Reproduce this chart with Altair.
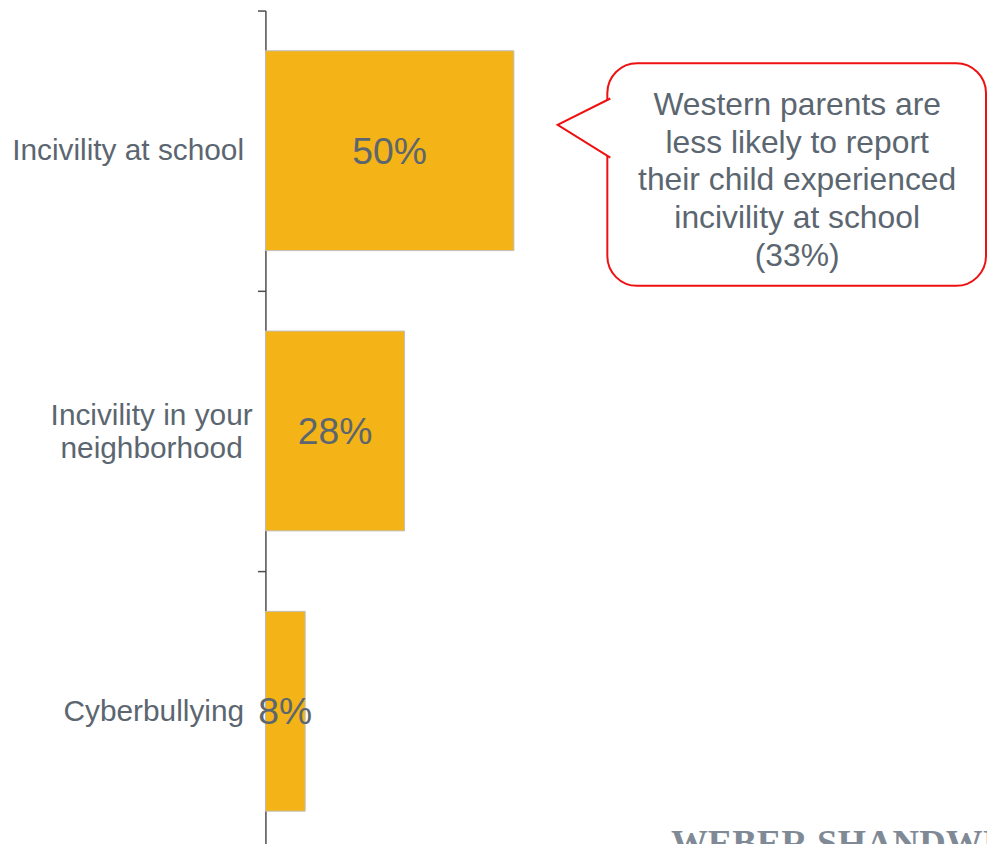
import altair as alt
import pandas as pd

categories = ["Incivility at school", "Incivility in your neighborhood", "Cyberbullying"]
values = [50, 28, 8]
value_labels = ["50%", "28%", "8%"]

callout_lines = ["Western parents are", "less likely to report",
                 "their child experienced", "incivility at school", "(33%)"]
footer_text = "WEBER SHANDWICK"

TEXT = "#5B6670"
RED = "#EE1111"
BAR = "#F4B316"

df = pd.DataFrame({"category": categories, "value": values, "label": value_labels})
one = pd.DataFrame({"k": [0]})

two_line = "datum.value == 'Incivility in your neighborhood'"
label_expr = (two_line + " ? ['Incivility in your', 'neighborhood'] : datum.label")

y_scale = alt.Scale(paddingInner=0, paddingOuter=0, range=[0, 846])
y_enc = alt.Y(
    "category:N", sort=categories, scale=y_scale,
    axis=alt.Axis(title=None, tickBand="extent", domainColor="#4D4D4D", tickColor="#4D4D4D",
                  tickSize=8, domainWidth=1.5, tickWidth=1.5, labelFont="Liberation Sans",
                  labelFontSize=30, labelColor=TEXT, labelLineHeight=34,
                  labelExpr=label_expr, labelLimit=0, grid=False,
                  labelPadding=alt.condition(two_line, alt.value(107), alt.value(14)),
                  labelAlign=alt.condition(two_line, alt.value("center"), alt.value("right")),
                  labelOffset=alt.condition(two_line, alt.value(-16), alt.value(0))),
)
x_scale = alt.Scale(domain=[0, 145.6], nice=False, range=[0, 728])

base = alt.Chart(df)
bars = base.mark_bar(color=BAR, stroke="#BFBFBF", strokeWidth=1, height={"band": 0.713}).encode(
    y=y_enc, x=alt.X("value:Q", scale=x_scale, axis=None)
)
bar_text = base.transform_calculate(mid="datum.value / 2").mark_text(
    fontSize=37.5, color=TEXT, font="Liberation Sans", baseline="middle", dy=2
).encode(y=alt.Y("category:N", sort=categories), x=alt.X("mid:Q", scale=x_scale, axis=None),
         text="label:N")

box = alt.Chart(one).mark_rect(fill="white", stroke=RED, strokeWidth=2, cornerRadius=30).encode(
    x=alt.value(344), x2=alt.value(725), y=alt.value(53), y2=alt.value(277)
)
pointer = alt.Chart(one).mark_point(
    shape="M 53 -26.5 L 0 0 L 53 32.9", size=4, filled=True, fill="white",
    stroke=RED, strokeWidth=2, opacity=1, fillOpacity=1, strokeOpacity=1
).encode(x=alt.value(294), y=alt.value(115))
callout_text = alt.Chart(one).mark_text(
    text=callout_lines, fontSize=32, lineHeight=38, font="Liberation Sans", color=TEXT,
    align="center", baseline="middle"
).encode(x=alt.value(535), y=alt.value(95))

footer = alt.Chart(one).mark_text(
    text=footer_text, font="Liberation Serif", fontSize=37, fontWeight="bold",
    color="#7F8A96", align="left", baseline="alphabetic"
).encode(x=alt.value(408), y=alt.value(850))

chart = alt.layer(bars, bar_text, box, pointer, callout_text, footer).properties(
    width=726, height=836,
    autosize=alt.AutoSizeParams(type="none"),
    padding={"left": 259, "top": 0, "right": 0, "bottom": 0},
).configure_view(stroke=None)

chart.save("out.html", embed_options={"renderer": "svg", "actions": False})
